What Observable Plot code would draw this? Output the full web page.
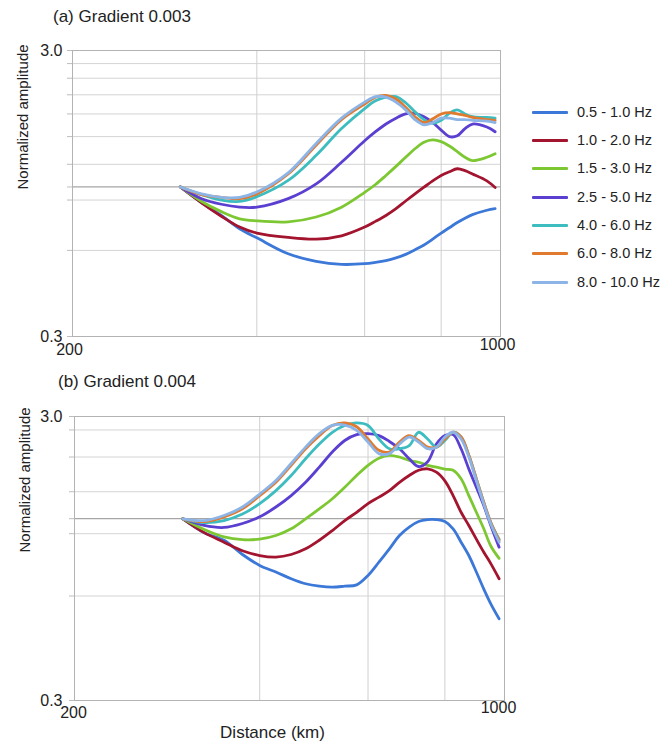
<!DOCTYPE html>
<html><head><meta charset="utf-8">
<script src="https://cdn.jsdelivr.net/npm/d3@7"></script>
<script src="https://cdn.jsdelivr.net/npm/@observablehq/plot@0.6"></script>
<style>
body{margin:0;background:#fff;font-family:"Liberation Sans",Arial,sans-serif;}
#wrap{position:relative;width:662px;height:746px;overflow:hidden;background:#fff;}
.ptitle{position:absolute;font-size:17px;line-height:1;color:#222;white-space:nowrap;}
.panel{position:absolute;left:0;}
.item{position:absolute;left:532px;height:16px;line-height:16px;white-space:nowrap;font-size:14.5px;color:#222;display:flex;align-items:center;}
.sw{display:inline-block;width:36px;height:3px;margin-right:9px;border-radius:1px;}
</style></head><body>
<div id="wrap"></div>
<script>
// Frequency bands and colours
const bands = ["0.5 - 1.0 Hz","1.0 - 2.0 Hz","1.5 - 3.0 Hz","2.5 - 5.0 Hz","4.0 - 6.0 Hz","6.0 - 8.0 Hz","8.0 - 10.0 Hz"];
const bandColors = ["#3c78d8","#a3142f","#7dc832","#5b3fd1","#3dbdc0","#e07a2e","#8db4e6"];

// Axis ticks / grid
const xTickLabels = [200, 1000];
const yTickLabels = [0.3, 3.0];
const gridX = [400, 600, 800];
const gridYA = [0.6, 0.9, 1.2, 1.5, 1.8, 2.1, 2.4, 2.7];
const baseA = [1.0];
const gridYB = [0.70, 1.16, 1.63, 2.16, 2.69];
const baseB = [1.31];

// (a) Gradient 0.003
const distA = [300,325,350,375,400,450,500,550,600,625,650,675,700,725,750,775,800,825,850,875,900,950,980];
const a_05_10 = [1.0,0.88,0.795,0.714,0.664,0.584,0.549,0.536,0.539,0.545,0.553,0.565,0.581,0.603,0.627,0.657,0.69,0.72,0.751,0.778,0.80,0.829,0.84];
const a_10_20 = [1.0,0.88,0.79,0.724,0.69,0.666,0.657,0.675,0.724,0.758,0.795,0.84,0.893,0.946,0.998,1.05,1.097,1.13,1.158,1.14,1.11,1.05,0.995];
const a_15_30 = [1.0,0.89,0.82,0.774,0.761,0.755,0.785,0.85,0.958,1.02,1.097,1.18,1.27,1.36,1.434,1.46,1.44,1.39,1.33,1.27,1.237,1.27,1.306];
const a_25_50 = [1.0,0.91,0.87,0.85,0.85,0.91,1.025,1.22,1.45,1.56,1.66,1.74,1.80,1.81,1.76,1.68,1.58,1.50,1.51,1.60,1.66,1.62,1.56];
const a_40_60 = [1.0,0.94,0.90,0.89,0.925,1.054,1.29,1.6,1.88,2.0,2.06,2.07,1.97,1.83,1.72,1.67,1.71,1.81,1.86,1.80,1.76,1.75,1.74];
const a_60_80 = [1.0,0.94,0.92,0.91,0.946,1.11,1.40,1.72,1.95,2.06,2.09,2.03,1.90,1.76,1.68,1.73,1.80,1.82,1.80,1.78,1.75,1.72,1.71];
const a_80_100 = [1.0,0.946,0.92,0.92,0.96,1.12,1.42,1.74,1.98,2.07,2.06,1.98,1.86,1.72,1.65,1.68,1.74,1.74,1.72,1.72,1.71,1.70,1.68];

// (b) Gradient 0.004
const distB = [300,325,350,375,400,425,450,475,500,525,550,575,600,625,650,675,700,725,750,775,800,825,850,875,900,925,950,980];
const b_05_10 = [1.309,1.17,1.10,0.98,0.897,0.85,0.805,0.773,0.758,0.752,0.758,0.766,0.827,0.921,1.026,1.143,1.224,1.28,1.30,1.30,1.28,1.207,1.083,0.972,0.85,0.742,0.657,0.582];
const b_10_20 = [1.309,1.17,1.083,1.01,0.972,0.96,0.98,1.026,1.10,1.19,1.29,1.38,1.48,1.56,1.645,1.76,1.86,1.94,1.963,1.91,1.78,1.58,1.38,1.24,1.11,1.0,0.91,0.805];
const b_15_30 = [1.309,1.20,1.13,1.105,1.11,1.143,1.207,1.309,1.419,1.54,1.69,1.86,2.02,2.14,2.19,2.16,2.10,2.07,2.02,1.99,1.96,1.94,1.81,1.58,1.38,1.21,1.05,0.95];
const b_25_50 = [1.309,1.24,1.22,1.26,1.33,1.44,1.58,1.76,1.99,2.25,2.47,2.59,2.61,2.57,2.45,2.31,2.13,2.0,2.08,2.40,2.57,2.59,2.31,1.96,1.69,1.46,1.24,1.04];
const b_40_60 = [1.309,1.27,1.29,1.36,1.48,1.645,1.86,2.13,2.40,2.64,2.79,2.85,2.79,2.50,2.31,2.31,2.37,2.64,2.50,2.34,2.47,2.64,2.54,2.19,1.81,1.50,1.27,1.11];
const b_60_80 = [1.309,1.28,1.33,1.42,1.58,1.76,2.02,2.31,2.57,2.79,2.85,2.76,2.50,2.28,2.25,2.44,2.57,2.47,2.34,2.34,2.50,2.64,2.54,2.19,1.81,1.50,1.27,1.10];
const b_80_100 = [1.309,1.29,1.345,1.44,1.60,1.785,2.05,2.34,2.61,2.79,2.80,2.68,2.44,2.22,2.22,2.40,2.54,2.44,2.31,2.34,2.54,2.64,2.50,2.16,1.785,1.48,1.255,1.083];

const seriesA = [a_05_10,a_10_20,a_15_30,a_25_50,a_40_60,a_60_80,a_80_100];
const seriesB = [b_05_10,b_10_20,b_15_30,b_25_50,b_40_60,b_60_80,b_80_100];

function toRows(dist, arrs) {
  return arrs.flatMap((vals, i) => vals.map((v, j) => ({d: dist[j], amp: v, band: bands[i]})));
}

const fmt1 = d3.format(".1f");
const FONT = "'Liberation Sans', Arial, sans-serif";

function panel(opts) {
  const {rows, gridY, base, width, height, mL, mR, mT, mB, yPad, xPad200, xPad1000, dx200, dx1000, labelDy, xLabel} = opts;
  const marks = [
    Plot.ruleY(gridY, {stroke: "#d4d4d4", strokeWidth: 1}),
    Plot.ruleX(gridX, {stroke: "#cfcfcf", strokeWidth: 1}),
    Plot.ruleY(base, {stroke: "#a6a6a6", strokeWidth: 1.3}),
    Plot.frame({stroke: "#b3b3b3", strokeWidth: 1}),
    Plot.axisY([...gridY, ...base, ...yTickLabels], {tickSize: 5, tickFormat: () => "", stroke: "#bdbdbd", label: null}),
    Plot.axisY(yTickLabels, {tickSize: 0, tickPadding: yPad, tickFormat: fmt1, fontSize: 16, fill: "#222", label: null}),
    Plot.axisX([xTickLabels[0]], {tickSize: 0, tickPadding: xPad200, dx: dx200, tickFormat: d => String(d), fontSize: 16, fill: "#222", label: null}),
    Plot.axisX([xTickLabels[1]], {tickSize: 0, tickPadding: xPad1000, dx: dx1000, tickFormat: d => String(d), fontSize: 16, fill: "#222", label: null}),
    Plot.text(["Normalized amplitude"], {frameAnchor: "left", dx: -49, dy: labelDy, rotate: -90, fontSize: 15, fill: "#222"}),
    Plot.line(rows, {x: "d", y: "amp", z: "band", stroke: "band", strokeWidth: 2.8, curve: "catmull-rom", strokeLinejoin: "round", strokeLinecap: "round"})
  ];
  if (xLabel) marks.push(Plot.text([xLabel], {frameAnchor: "bottom", dx: -17, dy: 37, fontSize: 17, fill: "#222"}));
  return Plot.plot({
    width, height,
    marginLeft: mL, marginRight: mR, marginTop: mT, marginBottom: mB,
    x: {type: "log", domain: [200, 1000]},
    y: {type: "log", domain: [0.3, 3]},
    color: {domain: bands, range: bandColors},
    style: {fontFamily: FONT, background: "transparent", overflow: "visible"},
    marks
  });
}

const wrap = document.getElementById("wrap");

const svgA = panel({rows: toRows(distA, seriesA), gridY: gridYA, base: baseA,
  width: 520, height: 360, mL: 72, mR: 20, mT: 50, mB: 24,
  yPad: 10, xPad200: 7, xPad1000: 2, dx200: -3, dx1000: -3, labelDy: -4});
svgA.classList.add("panel"); svgA.style.top = "0px";
wrap.appendChild(svgA);

const svgB = panel({rows: toRows(distB, seriesB), gridY: gridYB, base: baseB,
  width: 520, height: 386, mL: 74, mR: 16, mT: 56, mB: 46,
  yPad: 12, xPad200: 6, xPad1000: 1, dx200: -1, dx1000: -6, labelDy: -6, xLabel: "Distance (km)"});
svgB.classList.add("panel"); svgB.style.top = "360px";
wrap.appendChild(svgB);

function addTitle(text, left, centerY) {
  const t = document.createElement("div");
  t.className = "ptitle";
  t.textContent = text;
  t.style.left = left + "px";
  t.style.top = (centerY - 9) + "px";
  wrap.appendChild(t);
}
addTitle("(a) Gradient 0.003", 53, 17);
addTitle("(b) Gradient 0.004", 58, 382);

// Legend
const legendY = [112, 140, 168, 197, 225, 253, 282];
bands.forEach((b, i) => {
  const it = document.createElement("div");
  it.className = "item";
  it.style.top = (legendY[i] - 8) + "px";
  const sw = document.createElement("span");
  sw.className = "sw";
  sw.style.background = bandColors[i];
  const tx = document.createElement("span");
  tx.textContent = b;
  it.appendChild(sw); it.appendChild(tx);
  wrap.appendChild(it);
});
</script>
</body></html>
